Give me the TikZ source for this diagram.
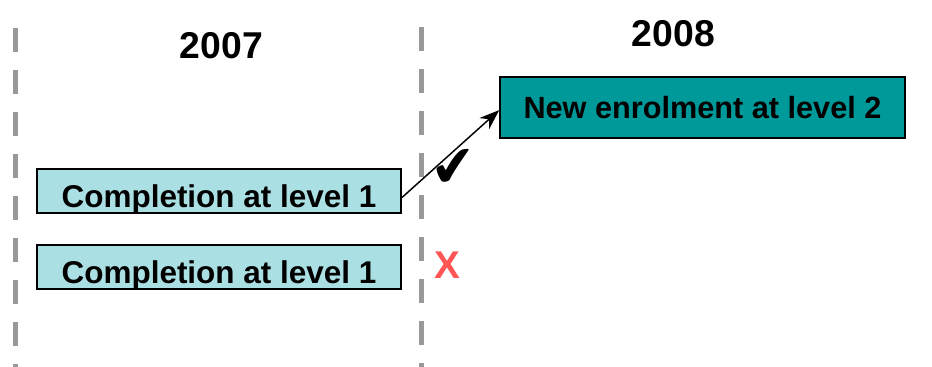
\documentclass[tikz,border=0pt]{standalone}
\usepackage{fontspec}
\setmainfont{Liberation Sans}
\newfontfamily\symfont{DejaVu Sans}
\usetikzlibrary{arrows.meta, positioning}

\definecolor{lightteal}{HTML}{AADFE3}
\definecolor{darkteal}{HTML}{009999}
\definecolor{crossred}{HTML}{FF5555}
\definecolor{divgray}{HTML}{999999}

\begin{document}
\begin{tikzpicture}[
    x=0.75pt, y=-0.75pt,
    year/.style={
        font=\fontsize{28}{30}\selectfont\bfseries
    },
    stagebox/.style={
        rectangle,
        draw,
        line width=1.2pt,
        inner sep=0pt,
        font=\fontsize{23.6}{26}\selectfont\bfseries
    },
    oldbox/.style={
        stagebox,
        fill=lightteal,
        minimum width=273pt,
        minimum height=33pt,
        text height=24.75pt,
        text depth=0pt
    },
    newbox/.style={
        stagebox,
        fill=darkteal,
        minimum width=303.75pt,
        minimum height=45.75pt,
        font=\fontsize{23}{25}\selectfont\bfseries
    },
    divider/.style={
        divgray,
        line width=3.75pt,
        dash pattern=on 18pt off 13.5pt
    },
    arrow/.style={
        -{Stealth[length=15pt, width=11pt]},
        line width=1.1pt
    }
]
\useasboundingbox (0,0) rectangle (932,367);

% Year dividers
\coordinate (div1top) at (15,28);
\coordinate (div1bot) at (15,367);
\coordinate (div2top) at (421,27);
\coordinate (div2bot) at (421,367);
\draw[divider] (div1top) -- (div1bot);
\draw[divider] (div2top) -- (div2bot);

% Years
\node[year] (year07) at (221.5,45.5) {2007};
\node[year] (year08) at (673.5,33.5) {2008};

% Boxes
\node[oldbox] (comp1) at (219,191) {Completion at level 1};
\node[oldbox] (comp2) at (219,267) {Completion at level 1};
\node[newbox] (enrol) at (702.5,107.5) {New enrolment at level 2};

% Transition
\draw[arrow] ([yshift=-5pt]comp1.east) -- ([yshift=-2pt]enrol.west);

% Marks
\node[font=\symfont\fontsize{42}{44}\selectfont, rotate=6] (tick) at (454,168) {✔};
\node[font=\fontsize{29}{31}\selectfont\bfseries, text=crossred] (cross) at (447,265) {X};

\end{tikzpicture}
\end{document}
